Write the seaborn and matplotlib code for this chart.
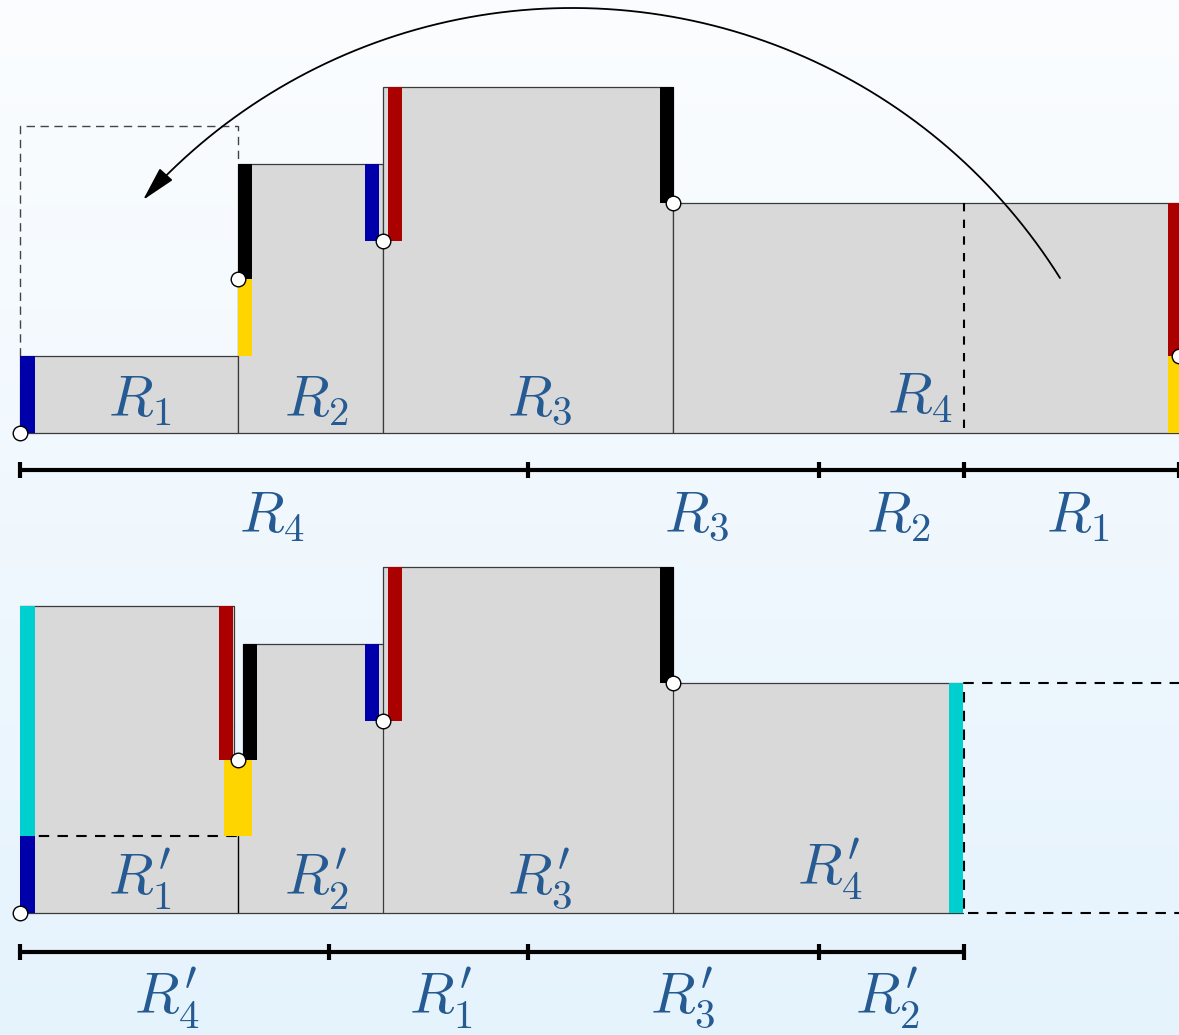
import numpy as np
import pandas as pd
import seaborn as sns
from matplotlib import pyplot as plt
from matplotlib.patches import Rectangle, FancyArrowPatch
from matplotlib.path import Path

# everything below is in picture pixels, y grows downward
W, H = 1179, 1035

# upper staircase: left, right, top of each block (base at top_base)
top_base = 433
top_x0 = [20, 238, 383, 673]
top_x1 = [238, 383, 673, 1200]
top_y = [356, 164, 87, 203]
top_names = ["$R_1$", "$R_2$", "$R_3$", "$R_4$"]
top_label_x = [140, 316, 540, 920]
top_label_y = [400, 400, 400, 397]

# lower staircase (last one is the sliver under the yellow strip)
bot_base = 913
bot_x0 = [20, 243, 383, 673, 234]
bot_x1 = [234, 383, 673, 963, 243]
bot_y = [606, 644, 567, 683, 760]
bot_names = [r"$R^{\prime}_{1}$", r"$R^{\prime}_{2}$", r"$R^{\prime}_{3}$", r"$R^{\prime}_{4}$"]
bot_label_x = [140, 316, 540, 830]
bot_label_y = [879, 879, 879, 869]

# coloured edge strips: left x, top y, bottom y, colour
BLUE, RED, BLACK, YELLOW, CYAN = "#0000aa", "#aa0000", "#000000", "#ffd500", "#00cfcf"
strip_x = [20, 238, 238, 365, 388, 660, 1168, 1168,
           20, 20, 219, 224, 243, 365, 388, 660, 949]
strip_y0 = [356, 164, 279, 164, 87, 87, 203, 356,
            606, 836, 606, 760, 644, 644, 567, 567, 683]
strip_y1 = [433, 279, 356, 241, 241, 203, 356, 433,
            836, 913, 760, 836, 760, 721, 721, 683, 913]
strip_c = [BLUE, BLACK, YELLOW, BLUE, RED, BLACK, RED, YELLOW,
           CYAN, BLUE, RED, YELLOW, BLACK, BLUE, RED, BLACK, CYAN]
strip_w = [15, 14, 14, 14, 14, 14, 14, 14,
           15, 15, 14, 28, 14, 14, 14, 14, 14]

# hinge points
dots = pd.DataFrame({
    "x": [20, 238, 383, 673, 1179, 20, 238, 383, 673],
    "y": [433, 279, 241, 203, 356, 913, 760, 721, 683],
})

# length scales under each staircase
scale1_y = 470
scale1_ticks = [20, 528, 819, 964, 1179]
scale1_names = ["$R_4$", "$R_3$", "$R_2$", "$R_1$"]
scale1_label_x = [272, 697, 898, 1078]
scale2_y = 952
scale2_ticks = [20, 329, 528, 819, 964]
scale2_names = [r"$R^{\prime}_{4}$", r"$R^{\prime}_{1}$", r"$R^{\prime}_{3}$", r"$R^{\prime}_{2}$"]
scale2_label_x = [167, 441, 683, 887]

# curved arrow: start, apex, end
arrow_pts = [(1060, 278), (575, 8), (143, 200)]

TEXT = "#255b92"
GREY = "#d9d9d9"
EDGE = "#3a3a3a"

sns.set_theme(style="white")
plt.rcParams["mathtext.fontset"] = "cm"

fig = plt.figure(figsize=(W / 100, H / 100), dpi=100)
ax = fig.add_axes([0, 0, 1, 1])
ax.set_xlim(0, W)
ax.set_ylim(H, 0)
ax.axis("off")

# soft background gradient
grad = np.linspace(0, 1, 256)[:, None]
top_c = np.array([0.985, 0.992, 1.0])
bot_c = np.array([0.898, 0.953, 0.992])
img = top_c + grad[..., None] * (bot_c - top_c)
ax.imshow(img, extent=(0, W, H, 0), aspect="auto", zorder=0)

# dashed ghosts
ax.plot([20, 20, 238, 238], [356, 126, 126, 164], ls=(0, (6, 4)), lw=1, color="#444", zorder=1)
ax.plot([964, 964], [203, 433], ls=(0, (4, 4)), lw=1.5, color="black", zorder=3)
ax.plot([20, 238], [836, 836], ls=(0, (5, 4)), lw=1.5, color="black", zorder=3)
ax.plot([238, 238], [836, 913], lw=1.0, color="black", zorder=3)
ax.plot([1200, 964, 964, 1200], [683, 683, 913, 913], ls=(0, (5, 4)), lw=1.5, color="black", zorder=3)

# grey blocks, upper row outlined directly
for x0, x1, y in zip(top_x0, top_x1, top_y):
    ax.add_patch(Rectangle((x0, y), x1 - x0, top_base - y, fc=GREY, ec=EDGE, lw=0.9, zorder=2))

# lower row: fill first, outline by hand so the notch stays open
for x0, x1, y in zip(bot_x0, bot_x1, bot_y):
    ax.add_patch(Rectangle((x0, y), x1 - x0, bot_base - y, fc=GREY, ec="none", zorder=2))
ax.plot([20, 234, 234], [606, 606, 760], lw=0.9, color=EDGE, zorder=3)
ax.plot([243, 243, 383], [760, 644, 644], lw=0.9, color=EDGE, zorder=3)
ax.plot([383, 383, 673, 673, 963], [913, 567, 567, 913, 913], lw=0.9, color=EDGE, zorder=3)
ax.plot([673, 963], [683, 683], lw=0.9, color=EDGE, zorder=3)
ax.plot([20, 673], [913, 913], lw=0.9, color=EDGE, zorder=3)

# coloured strips
for x, y0, y1, c, w in zip(strip_x, strip_y0, strip_y1, strip_c, strip_w):
    ax.add_patch(Rectangle((x, y0), w, y1 - y0, fc=c, ec="none", zorder=4))

sns.scatterplot(data=dots, x="x", y="y", s=110, color="white", edgecolor="black",
                linewidth=1, zorder=6, ax=ax, legend=False)

# labels inside blocks
for s, x, y in zip(top_names, top_label_x, top_label_y):
    ax.text(x, y, s, fontsize=42, color=TEXT, ha="center", va="center", zorder=7)
for s, x, y in zip(bot_names, bot_label_x, bot_label_y):
    ax.text(x, y, s, fontsize=42, color=TEXT, ha="center", va="center", zorder=7)

# scales
for sy, ticks, names, lx in [(scale1_y, scale1_ticks, scale1_names, scale1_label_x),
                             (scale2_y, scale2_ticks, scale2_names, scale2_label_x)]:
    ax.plot([ticks[0], ticks[-1]], [sy, sy], lw=3, color="black", solid_capstyle="butt", zorder=5)
    for t in ticks:
        ax.plot([t, t], [sy - 8, sy + 8], lw=3, color="black", solid_capstyle="butt", zorder=5)
    for s, x in zip(names, lx):
        ax.text(x, sy + 46, s, fontsize=42, color=TEXT, ha="center", va="center", zorder=7)

# arc through the three arrow points
(x1, y1), (x2, y2), (x3, y3) = arrow_pts
A = np.array([[x2 - x1, y2 - y1], [x3 - x1, y3 - y1]], dtype=float)
b = 0.5 * np.array([x2**2 - x1**2 + y2**2 - y1**2, x3**2 - x1**2 + y3**2 - y1**2])
cx, cy = np.linalg.solve(A, b)
r = np.hypot(x1 - cx, y1 - cy)
a1 = np.arctan2(y1 - cy, x1 - cx)
a3 = np.arctan2(y3 - cy, x3 - cx)
if a3 > a1:
    a3 -= 2 * np.pi
ang = np.linspace(a1, a3, 200)
verts = np.column_stack([cx + r * np.cos(ang), cy + r * np.sin(ang)])
arrow = FancyArrowPatch(path=Path(verts), arrowstyle="-|>,head_length=1.2,head_width=0.3",
                        mutation_scale=18, lw=1.3, color="black", zorder=8)
ax.add_patch(arrow)

fig.savefig("out.png", dpi=100)
